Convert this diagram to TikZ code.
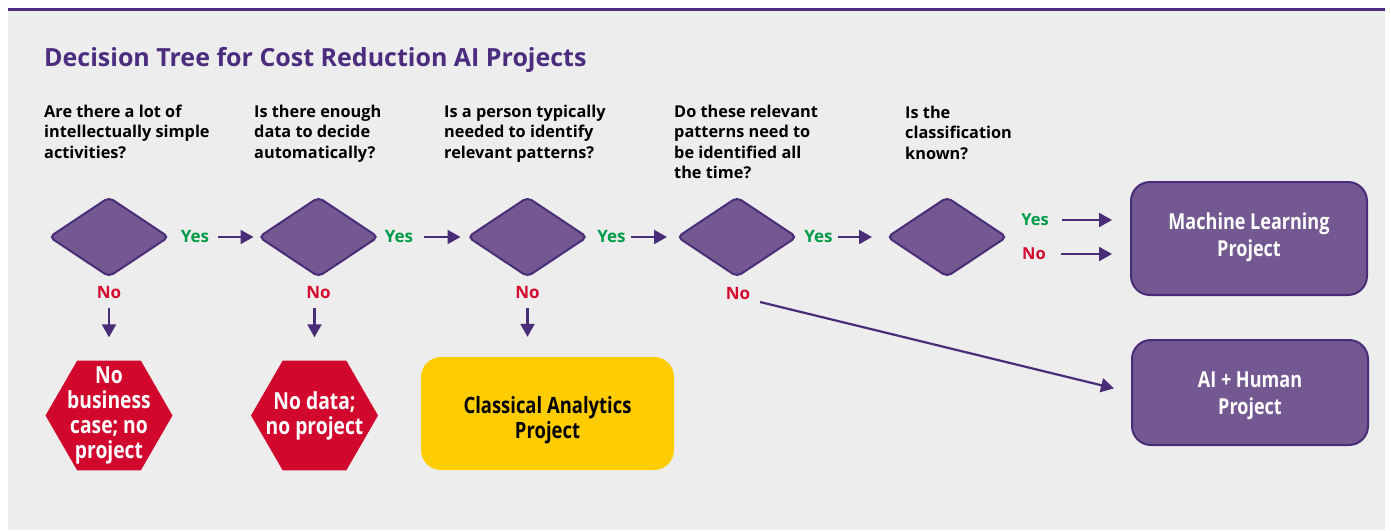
\documentclass[tikz,border=0pt]{standalone}
\usepackage{fontspec}
\setmainfont{Open Sans}
\newfontfamily\condfont{Open Sans}[FakeStretch=0.82]
\usetikzlibrary{shapes.geometric,arrows.meta}
\definecolor{bgc}{HTML}{EDEDED}
\definecolor{titlec}{HTML}{4B2C7E}
\definecolor{dfill}{HTML}{735891}
\definecolor{dline}{HTML}{4A2D78}
\definecolor{yesc}{HTML}{009B48}
\definecolor{noc}{HTML}{D40A2F}
\definecolor{hexc}{HTML}{D2072D}
\definecolor{yelc}{HTML}{FFCC00}
\tikzset{
  question/.style={anchor=north west, inner sep=0pt, align=left, text=black,
    font=\fontsize{16.3}{20.5}\selectfont\bfseries},
  decision/.style={shape=diamond, draw=dline, fill=dfill, line width=2pt,
    minimum width=120pt, minimum height=80pt, inner sep=0pt, rounded corners=5pt},
  yeslab/.style={inner sep=0pt, text=yesc, font=\fontsize{17}{20}\selectfont\bfseries},
  nolab/.style={inner sep=0pt, text=noc, font=\fontsize{17}{20}\selectfont\bfseries},
  smalllab/.style={inner sep=0pt, font=\fontsize{16.5}{20}\selectfont\bfseries},
  hexa/.style={shape=regular polygon, regular polygon sides=6, fill=hexc,
    minimum size=127pt, inner sep=0pt},
  hextext/.style={align=center, text=white, inner sep=0pt,
    font=\condfont\fontsize{23.5}{25}\selectfont\bfseries},
  resultbox/.style={rounded corners=19pt, draw=dline, fill=dfill, line width=2pt,
    align=center, text=white, inner sep=0pt,
    font=\condfont\fontsize{22}{27}\selectfont\bfseries},
  yellowbox/.style={rounded corners=20pt, fill=yelc, align=center, text=black,
    inner sep=0pt, font=\condfont\fontsize{22.5}{25}\selectfont\bfseries},
  arr/.style={draw=dline, line width=2.2pt, -{Triangle[length=13pt,width=14pt]}}
}
\begin{document}
\begin{tikzpicture}[x=1pt,y=-1pt]
\useasboundingbox (0,0) rectangle (1391,530);
\fill[bgc] (8,10) rectangle (1385,530);
\draw[titlec, line width=3pt] (8,9.5) -- (1385,9.5);

\node[anchor=base west, inner sep=0pt, text=titlec,
  font=\fontsize{25}{30}\selectfont\bfseries] (title) at (44,66)
  {Decision Tree for Cost Reduction AI Projects};

% questions
\node[question] (q1) at (44,104.5) {Are there a lot of\\intellectually simple\\activities?};
\node[question] (q2) at (254,104.5) {Is there enough\\data to decide\\automatically?};
\node[question] (q3) at (444,104.5) {Is a person typically\\needed to identify\\relevant patterns?};
\node[question] (q4) at (674,104.5) {Do these relevant\\patterns need to\\be identified all\\the time?};
\node[question] (q5) at (905,105.5) {Is the\\classification\\known?};

% decisions
\node[decision] (d1) at (109,237) {};
\node[decision] (d2) at (318.5,237) {};
\node[decision] (d3) at (527.5,237) {};
\node[decision] (d4) at (737,237) {};
\node[decision] (d5) at (947,237) {};

% yes labels
\node[yeslab] (y1) at (195,237) {Yes};
\node[yeslab] (y2) at (399,237) {Yes};
\node[yeslab] (y3) at (611.5,237) {Yes};
\node[yeslab] (y4) at (818.5,237) {Yes};
\node[smalllab, text=yesc] (y5) at (1035,220) {Yes};
\node[smalllab, text=noc] (n5) at (1034,254) {No};

% no labels
\node[nolab] (n1) at (109,293) {No};
\node[nolab] (n2) at (318.5,293) {No};
\node[nolab] (n3) at (527.5,293) {No};
\node[nolab] (n4) at (738,294) {No};

% results
\node[hexa] (h1) at (109,415.5) {};
\node[hextext] (h1t) at (109,415) {No\\business\\case; no\\project};
\node[hexa] (h2) at (314.5,415.5) {};
\node[hextext] (h2t) at (314.5,416) {No data;\\no project};
\node[yellowbox, minimum width=253pt, minimum height=113pt] (ca) at (547.5,413.5) {};
\node[yellowbox] (cat) at (547.5,420.5) {Classical Analytics\\Project};
\node[resultbox, minimum width=236pt, minimum height=113pt] (ml) at (1249,238.5) {};
\node[resultbox, draw=none, fill=none] (mlt) at (1249,237.5) {Machine Learning\\Project};
\node[resultbox, minimum width=236pt, minimum height=105pt] (ai) at (1250,392.5) {};
\node[resultbox, draw=none, fill=none] (ait) at (1250,396) {AI + Human\\Project};

\coordinate (n4s) at (760,302);

% connectors
\draw[arr, shorten <=9pt, shorten >=4pt] (y1.east) -- (d2.west);
\draw[arr, shorten <=11pt, shorten >=6pt] (y2.east) -- (d3.west);
\draw[arr, shorten <=5pt, shorten >=9pt] (y3.east) -- (d4.west);
\draw[arr, shorten <=5pt, shorten >=14pt] (y4.east) -- (d5.west);
\draw[arr, shorten <=13pt, shorten >=18pt] (y5.east) -- (y5.east -| ml.west);
\draw[arr, shorten <=15pt, shorten >=18pt] (n5.east) -- (n5.east -| ml.west);
\draw[arr, shorten <=9pt, shorten >=23pt] (n1.south) -- (h1.north);
\draw[arr, shorten <=9pt, shorten >=23pt] (n2.south -| h2.north) -- (h2.north);
\draw[arr, shorten <=9pt, shorten >=20pt] (n3.south) -- (n3.south |- ca.north);
\draw[arr, shorten >=17.5pt] (n4s) -- (ai.west);
\end{tikzpicture}
\end{document}
